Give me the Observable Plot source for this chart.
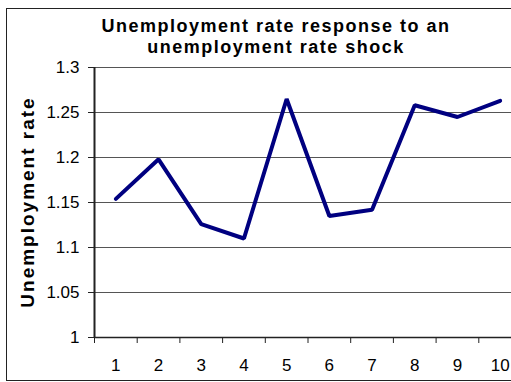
<!DOCTYPE html>
<html><head><meta charset="utf-8">
<script src="https://cdn.jsdelivr.net/npm/d3@7"></script>
<script src="https://cdn.jsdelivr.net/npm/@observablehq/plot@0.6"></script>
<style>
html,body{margin:0;padding:0;overflow:hidden;background:#fff;width:511px;height:382px}
#wrap{position:relative;width:511px;height:382px;overflow:hidden;font-family:"Liberation Sans",Arial,sans-serif;color:#000}
#border{position:absolute;left:6px;top:8px;width:540px;height:373px;border:1px solid #222;box-sizing:border-box}
#title{position:absolute;left:0;top:16px;width:552px;text-align:center;font-weight:bold;font-size:18px;line-height:21px;letter-spacing:1.5px}
#chart{position:absolute;left:0;top:0;width:530px}
#chart svg{max-width:none !important;}
#ylab{position:absolute;left:28px;top:202px;transform:translate(-50%,-50%) rotate(-90deg);white-space:nowrap;font-weight:bold;font-size:19px;letter-spacing:2px}
</style></head>
<body><div id="wrap"><div id="border"></div><div id="chart"></div><div id="title">Unemployment rate response to an<br>unemployment rate shock</div><div id="ylab">Unemployment rate</div></div>
<script>
const periods = [1,2,3,4,5,6,7,8,9,10];
const rates = [1.154,1.198,1.126,1.11,1.265,1.135,1.142,1.258,1.245,1.263];
const yTicks = [1,1.05,1.1,1.15,1.2,1.25,1.3];
const data = periods.map((p,i)=>({period:p, value:rates[i]}));
const bounds = periods.map(p=>p-0.5).concat([periods[periods.length-1]+0.5]);

const plot = Plot.plot({
  width: 530, height: 382,
  marginLeft: 94, marginRight: 9, marginTop: 67, marginBottom: 45,
  style: {fontFamily: '"Liberation Sans", Arial, sans-serif', fontSize: "17px", color: "#000", background: "transparent", maxWidth: "none"},
  x: {type: "linear", domain: [0.5, 10.5]},
  y: {domain: [1, 1.3]},
  marks: [
    Plot.gridY(yTicks, {stroke: "#555", strokeOpacity: 1, strokeWidth: 1}),
    Plot.axisY(yTicks, {tickSize: 6, tickPadding: 9, fontSize: 17, label: null, tickFormat: d => String(d), stroke: "#222"}),
    Plot.axisX(periods, {tickSize: 0, tickPadding: 21, fontSize: 17, label: null, tickFormat: d => String(d)}),
    Plot.axisX(bounds, {tickSize: 6, tickFormat: () => "", label: null, stroke: "#222"}),
    Plot.ruleX([0.5], {stroke: "#222", strokeWidth: 2}),
    Plot.ruleY([1], {stroke: "#222", strokeWidth: 1.5}),
    Plot.line(data, {x: "period", y: "value", stroke: "#000080", strokeWidth: 4, strokeLinejoin: "miter"})
  ]
});
document.getElementById("chart").appendChild(plot);
</script></body></html>
